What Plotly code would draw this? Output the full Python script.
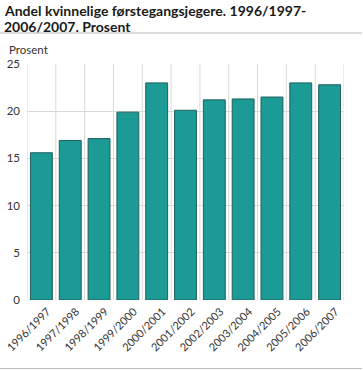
import plotly.graph_objects as go

seasons = ["1996/1997", "1997/1998", "1998/1999", "1999/2000", "2000/2001",
           "2001/2002", "2002/2003", "2003/2004", "2004/2005", "2005/2006", "2006/2007"]
values = [15.6, 16.9, 17.1, 19.9, 23.0, 20.1, 21.2, 21.3, 21.5, 23.0, 22.8]
y_ticks = [0, 5, 10, 15, 20, 25]
title_lines = ["Andel kvinnelige førstegangsjegere. 1996/1997-", "2006/2007. Prosent"]
unit_label = "Prosent"

positions = list(range(len(seasons)))
boundaries = [p - 0.5 for p in positions] + [positions[-1] + 0.5]

W, H = 363, 370
L, R, T, B = 27, 19, 64, 70
pw, ph = W - L - R, H - T - B


def px_x(x):
    return (x - L) / pw


def px_y(y):
    return (H - B - y) / ph


FONT = "Lato, Open Sans, DejaVu Sans, sans-serif"
GRID = "#d9d9d9"

fig = go.Figure()
fig.add_trace(go.Bar(
    x=positions, y=values,
    marker=dict(color="#1b9a96", line=dict(color="#21605d", width=1)),
    width=0.76,
    hoverinfo="y",
))

shapes = [dict(type="line", xref="x", yref="y", x0=b, x1=b, y0=y_ticks[0], y1=y_ticks[-1],
               layer="below", line=dict(color=GRID, width=1)) for b in boundaries]
shapes += [
    dict(type="line", xref="paper", yref="paper", x0=px_x(0), x1=px_x(362),
         y0=px_y(33), y1=px_y(33), line=dict(color="#b8b8b8", width=1)),
    dict(type="line", xref="paper", yref="paper", x0=px_x(0), x1=px_x(362),
         y0=px_y(368.5), y1=px_y(368.5), line=dict(color="#b8b8b8", width=1)),
]

annotations = [
    dict(text="<b>%s</b>" % title_lines[0], xref="paper", yref="paper",
         x=px_x(2), y=px_y(0.5), xanchor="left", yanchor="top", showarrow=False,
         font=dict(family=FONT, size=14, color="#1a1a1a")),
    dict(text="<b>%s</b>" % title_lines[1], xref="paper", yref="paper",
         x=px_x(2), y=px_y(16), xanchor="left", yanchor="top", showarrow=False,
         font=dict(family=FONT, size=14, color="#1a1a1a")),
    dict(text=unit_label, xref="paper", yref="paper", x=px_x(7), y=px_y(41),
         xanchor="left", yanchor="top", showarrow=False,
         font=dict(family=FONT, size=11.5, color="#333")),
]

fig.update_layout(
    width=W, height=H,
    margin=dict(l=L, r=R, t=T, b=B, pad=0),
    paper_bgcolor="white", plot_bgcolor="white",
    showlegend=False,
    font=dict(family=FONT, size=11, color="#333"),
    xaxis=dict(range=[-0.5, len(seasons) - 0.5], tickmode="array", tickvals=positions,
               ticktext=seasons, tickangle=-45, showgrid=False, zeroline=False,
               showline=False, ticks="", automargin=False, ticklabeloverflow="allow",
               ticklabelshift=6, ticklabelstandoff=2,
               tickfont=dict(family=FONT, size=11, color="#333")),
    yaxis=dict(range=[y_ticks[0], y_ticks[-1]], tickvals=y_ticks, showgrid=True,
               gridcolor=GRID, zeroline=False, ticks="", automargin=False,
               tickfont=dict(family=FONT, size=11.5, color="#333"), ticklabelstandoff=6),
    shapes=shapes,
    annotations=annotations,
)

fig.write_html("out.html", config={"displayModeBar": False},
               post_script="document.body.style.margin='0px';")
